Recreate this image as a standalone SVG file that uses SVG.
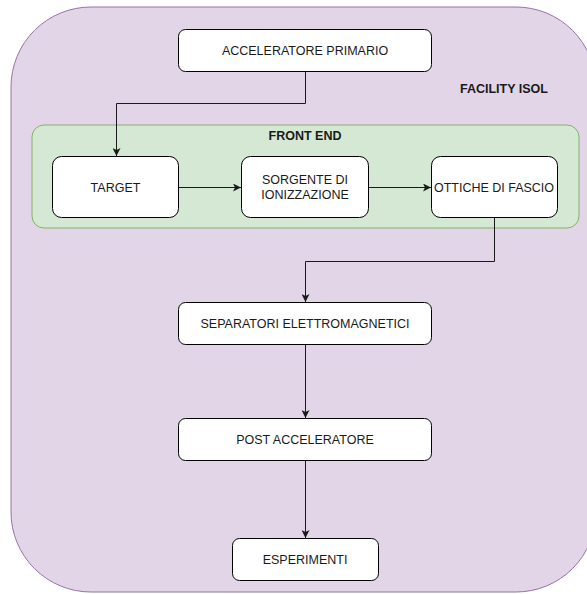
<svg xmlns="http://www.w3.org/2000/svg" width="587" height="594" viewBox="0 0 587 594">
<defs>
<style>
.node{fill:#ffffff;stroke:#000000;stroke-width:1}
.lbl{font-family:"Liberation Sans",Arial,sans-serif;font-size:12.5px;fill:#1a1a1a;text-anchor:middle}
.bold{font-weight:bold}
.edge{fill:none;stroke:#1a1a1a;stroke-width:1}
</style>
<marker id="arr" viewBox="0 0 10 10" refX="10" refY="5" markerWidth="8" markerHeight="8" markerUnits="userSpaceOnUse" orient="auto">
<path d="M0,0 L10,5 L0,10 L2.5,5 Z" fill="#1a1a1a"/>
</marker>
</defs>
<g id="facility">
<rect x="11" y="7" width="585" height="585" rx="80" ry="80" fill="#e1d5e7" stroke="#9673a6" stroke-width="1"/>
<text class="lbl bold" x="460" y="92.5" style="text-anchor:start">FACILITY ISOL</text>
</g>
<g id="frontend">
<rect x="32" y="125" width="547" height="103" rx="12" ry="12" fill="#d5e8d4" stroke="#82b366" stroke-width="1"/>
<text class="lbl bold" x="305" y="139.5">FRONT END</text>
</g>
<g id="acc-primario">
<rect class="node" x="178.5" y="29.5" width="253" height="42" rx="7"/>
<text class="lbl" x="305" y="55">ACCELERATORE PRIMARIO</text>
</g>
<g id="target">
<rect class="node" x="52.5" y="156.5" width="126" height="61" rx="9"/>
<text class="lbl" x="115.5" y="191.5">TARGET</text>
</g>
<g id="sorgente">
<rect class="node" x="241.5" y="156.5" width="127" height="61" rx="9"/>
<text class="lbl" x="305" y="184">SORGENTE DI</text>
<text class="lbl" x="305" y="199">IONIZZAZIONE</text>
</g>
<g id="ottiche">
<rect class="node" x="431.5" y="156.5" width="126" height="61" rx="9"/>
<text class="lbl" x="494" y="191.5">OTTICHE DI FASCIO</text>
</g>
<g id="separatori">
<rect class="node" x="178.5" y="302.5" width="253" height="42" rx="7"/>
<text class="lbl" x="305" y="328">SEPARATORI ELETTROMAGNETICI</text>
</g>
<g id="post-acc">
<rect class="node" x="178.5" y="418.5" width="253" height="42" rx="7"/>
<text class="lbl" x="305" y="444">POST ACCELERATORE</text>
</g>
<g id="esperimenti">
<rect class="node" x="232.5" y="538.5" width="146" height="42" rx="7"/>
<text class="lbl" x="305" y="564">ESPERIMENTI</text>
</g>
<g id="connectors">
<path class="edge" d="M305.5,72 V103.5 H116.5 V156" marker-end="url(#arr)"/>
<path class="edge" d="M179,187.5 H241" marker-end="url(#arr)"/>
<path class="edge" d="M369,187.5 H431" marker-end="url(#arr)"/>
<path class="edge" d="M494.5,218 V261.5 H305.5 V302" marker-end="url(#arr)"/>
<path class="edge" d="M305.5,345 V418" marker-end="url(#arr)"/>
<path class="edge" d="M305.5,461 V538" marker-end="url(#arr)"/>
</g>
</svg>
